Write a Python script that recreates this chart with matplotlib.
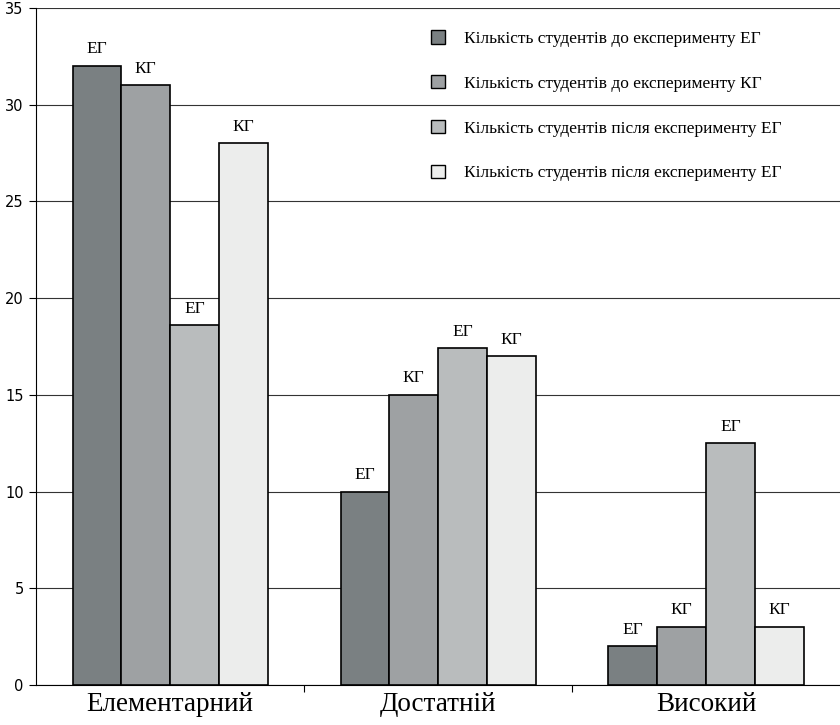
import numpy as np
import matplotlib
matplotlib.use('Agg')
import matplotlib.pyplot as plt
from matplotlib.ticker import FixedLocator

levels = ['Елементарний', 'Достатній', 'Високий']
series_names = ['Кількість студентів до експерименту ЕГ',
                'Кількість студентів до експерименту КГ',
                'Кількість студентів після експерименту ЕГ',
                'Кількість студентів після експерименту ЕГ']
before_eg = [32, 10, 2]
before_kg = [31, 15, 3]
after_eg = [18.6, 17.4, 12.5]
after_kg = [28, 17, 3]
bar_tags = ['ЕГ', 'КГ', 'ЕГ', 'КГ']

colors = ['#7a8082', '#9ea1a3', '#b9bcbd', '#ecedec']
serif = ['Liberation Serif', 'DejaVu Serif']

fig = plt.figure(figsize=(8.4, 7.25), dpi=100)
ax = fig.add_axes([0.043, 0.055, 0.957, 0.934])

x = np.arange(len(levels))
w = 0.182
data = [before_eg, before_kg, after_eg, after_kg]
for k, vals in enumerate(data):
    pos = x + (k - 1.5) * w
    bars = ax.bar(pos, vals, width=w, color=colors[k], edgecolor='black',
                  linewidth=1.2, label=series_names[k], zorder=3)
    for b, v in zip(bars, vals):
        ax.text(b.get_x() + b.get_width() / 2, v + 0.45, bar_tags[k],
                ha='center', va='bottom', fontsize=12.5, family=serif, zorder=4)

ax.set_xlim(-0.5, 2.5)
ax.set_ylim(0, 35)
ax.set_yticks(np.arange(0, 36, 5))
ax.yaxis.grid(True, color='#333333', linewidth=0.8, zorder=0)
ax.set_axisbelow(True)

ax.set_xticks(x)
ax.set_xticklabels(levels, family=serif, fontsize=19.5)
ax.xaxis.set_minor_locator(FixedLocator([0.5, 1.5]))
ax.tick_params(axis='x', which='major', length=0, pad=5)
ax.tick_params(axis='x', which='minor', length=5, width=0.8)
ax.tick_params(axis='y', length=5, width=0.8, labelsize=10.5, pad=4)

for s in ['top', 'right']:
    ax.spines[s].set_visible(False)
ax.spines['left'].set_linewidth(0.8)
ax.spines['bottom'].set_linewidth(0.8)

leg = ax.legend(loc='upper left', bbox_to_anchor=(0.472, 0.99), frameon=False,
                prop={'family': serif, 'size': 12.5}, handlelength=0.8,
                handleheight=0.8, labelspacing=1.62, handletextpad=1.1)
for h in leg.legend_handles:
    h.set_linewidth(1.0)

fig.savefig('out.png', dpi=100)
